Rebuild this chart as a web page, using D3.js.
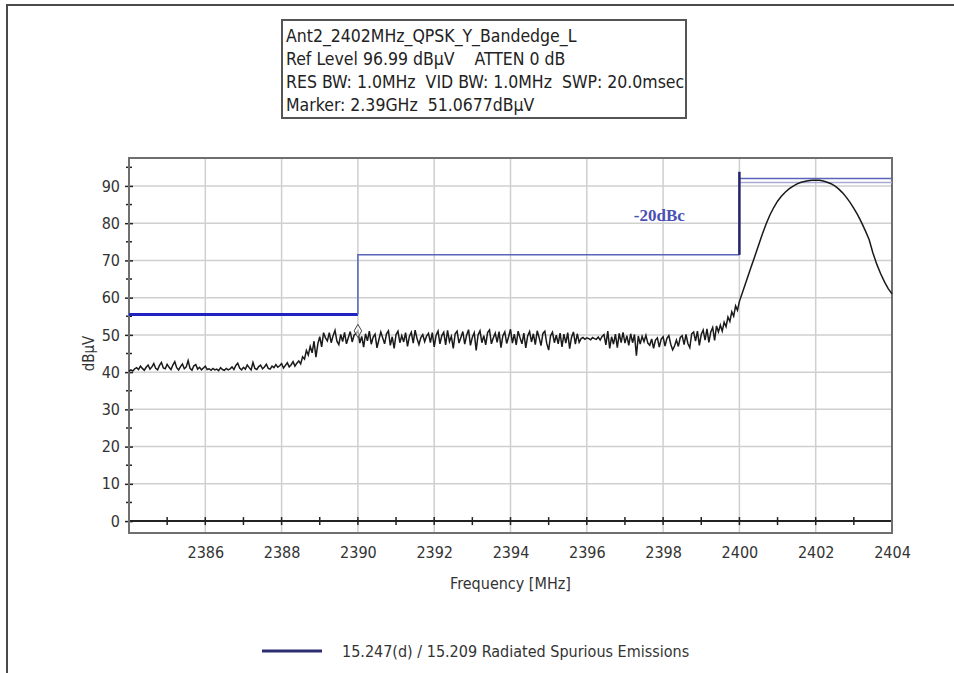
<!DOCTYPE html>
<html>
<head>
<meta charset="utf-8">
<script src="https://cdn.jsdelivr.net/npm/d3@7"></script>
<style>
  body { margin: 0; background: #fff; }
  text { font-family: "Liberation Sans Narrow", "DejaVu Sans Condensed", "Liberation Sans", sans-serif; }
</style>
</head>
<body>
<div id="chart"></div>
<script>
// header box lines
var headerLines = [
  "Ant2_2402MHz_QPSK_Y_Bandedge_L",
  "Ref Level 96.99 dB\u00b5V    ATTEN 0 dB",
  "RES BW: 1.0MHz  VID BW: 1.0MHz  SWP: 20.0msec",
  "Marker: 2.39GHz  51.0677dB\u00b5V"
];

var xTicks = [2386, 2388, 2390, 2392, 2394, 2396, 2398, 2400, 2402, 2404];
var yTicks = [0, 10, 20, 30, 40, 50, 60, 70, 80, 90];

// measured trace, 2384.00 .. 2400.00 MHz every 0.05 MHz
var noiseStart = 2384, noiseStep = 0.05;
var noiseLevel = [
  40.2,40.6,40.3,40.9,41.2,40.7,41.6,41.0,40.5,41.3,
  41.9,40.8,41.4,42.3,41.0,40.6,41.8,42.6,41.1,40.9,
  42.1,41.3,40.7,41.9,42.8,41.2,40.6,41.5,42.2,40.9,
  41.4,43.1,41.0,40.5,41.7,42.0,40.8,41.3,40.6,41.1,
  41.6,40.7,40.9,40.5,41.0,40.6,40.8,40.4,41.2,40.7,
  40.5,41.0,40.6,40.9,41.4,40.7,41.8,42.4,41.1,40.6,
  41.3,40.8,41.9,41.2,40.6,42.6,41.0,40.7,41.5,41.9,
  40.9,41.4,42.1,41.0,40.8,41.6,41.2,42.0,41.3,41.7,
  42.3,41.1,41.8,42.5,41.4,42.0,42.8,41.6,42.4,
  43.0,42.2,44.1,43.5,45.8,44.6,46.9,45.2,48.3,44.0,47.6,49.5,46.8,50.6,49.2,48.4,
  50.6,47.9,49.8,51.2,48.3,47.4,50.1,48.2,50.7,47.6,49.3,50.9,
  48.1,49.9,50.4,51.1,47.8,49.6,46.7,50.3,48.4,51.0,47.5,49.4,
  50.2,46.5,48.7,50.8,49.2,47.6,50.3,51.1,47.2,49.5,46.4,50.1,
  51.0,47.9,49.8,48.1,50.6,46.9,49.6,50.7,47.8,51.3,49.0,47.4,
  49.3,50.1,48.2,49.7,50.4,47.9,50.6,46.8,49.9,51.0,47.6,49.8,
  50.7,47.3,51.2,48.2,49.6,46.4,50.3,51.0,47.8,49.3,50.9,47.5,
  49.9,51.4,47.2,49.4,50.6,45.8,50.0,51.1,47.9,49.8,47.3,50.6,
  51.3,47.6,49.2,50.5,48.0,50.9,46.6,49.8,50.8,47.7,49.5,51.5,
  47.8,50.2,47.3,51.0,49.2,47.6,50.5,46.5,49.7,50.9,48.1,50.3,
  47.4,51.1,49.3,47.1,50.4,51.0,47.7,45.9,49.8,50.7,47.9,49.9,
  47.6,50.5,46.8,50.2,47.8,50.6,46.3,49.4,50.8,47.5,50.3,48.0,
  49.0,49.3,48.8,49.2,49.0,48.7,49.3,49.0,48.8,49.4,48.6,49.6,
  50.1,47.3,51.0,46.4,49.5,47.5,50.2,46.6,50.4,47.9,50.7,47.8,
  49.8,47.2,50.3,47.9,50.1,44.4,49.7,47.5,49.6,48.2,49.9,47.8,
  47.2,48.9,46.4,48.6,49.2,46.7,48.9,49.5,47.0,49.1,49.8,47.5,
  46.0,47.0,48.6,46.9,49.3,49.8,47.4,50.1,47.7,46.6,50.3,50.8,
  48.3,51.0,47.2,50.1,51.3,48.6,51.6,48.0,50.8,52.0,48.5,52.4,
  50.8,52.6,51.0,53.4,52.2,54.8,53.6,56.2,55.0,57.8,56.6,59.0
];

// carrier, 2400.1 .. 2404.0 MHz every 0.1 MHz
var carrierStart = 2400.1, carrierStep = 0.1;
var carrierLevel = [
  62.0,65.0,68.0,71.0,74.0,77.0,79.8,82.2,84.2,85.9,
  87.2,88.3,89.2,89.9,90.5,90.9,91.2,91.4,91.5,91.5,
  91.5,91.3,91.0,90.6,90.0,89.2,88.2,87.0,85.6,84.0,
  82.2,80.2,78.0,75.6,72.0,69.0,66.5,64.3,62.4,61.0
];

// limit lines (restricted band / -20dBc)
var limitLowFreq = [2384, 2390];
var limitLowLevel = [55.5, 55.5];
var limitMidFreq = [2390, 2390, 2400];
var limitMidLevel = [55.5, 71.5, 71.5];
var limitStepFreq = [2400, 2400];
var limitStepLevel = [71.5, 93.8];
var limitTopFreq = [2400, 2404];
var limitTopLevel = [92.0, 92.0];
var refLineLevel = [90.9, 90.9];

var markerFreq = 2390, markerLevel = 51.07;

var width = 954, height = 673;
var margin = {left: 129, right: 62, top: 158, bottom: 140};

var svg = d3.select("#chart").append("svg")
  .attr("width", width)
  .attr("height", height);

// outer frame (top + left only, like the capture)
svg.append("path")
  .attr("d", "M7,673 L7,5 L954,5")
  .attr("fill", "none")
  .attr("stroke", "#4a4a4a")
  .attr("stroke-width", 2);

var x = d3.scaleLinear().domain([2384, 2404]).range([margin.left, width - margin.right]);
var y = d3.scaleLinear().domain([-3.2, 97.5]).range([height - margin.bottom, margin.top]);

// grid
svg.append("g")
  .selectAll("line")
  .data(xTicks.filter(function(d) { return d < 2404; }))
  .join("line")
  .attr("x1", function(d) { return x(d); })
  .attr("x2", function(d) { return x(d); })
  .attr("y1", y.range()[1])
  .attr("y2", y.range()[0])
  .attr("stroke", "#cfcfcf")
  .attr("stroke-width", 1.5);

svg.append("g")
  .selectAll("line")
  .data(yTicks.filter(function(d) { return d > 0; }))
  .join("line")
  .attr("x1", x.range()[0])
  .attr("x2", x.range()[1])
  .attr("y1", function(d) { return y(d); })
  .attr("y2", function(d) { return y(d); })
  .attr("stroke", "#cfcfcf")
  .attr("stroke-width", 1.5);

// y axis with minor ticks every 5
var yAxis = d3.axisLeft(y)
  .tickValues(yTicks)
  .tickSize(5)
  .tickPadding(4);

var gy = svg.append("g")
  .attr("transform", "translate(" + margin.left + ",0)")
  .call(yAxis);
gy.select(".domain").remove();
gy.selectAll(".tick line").attr("x2", 4).attr("x1", -4).attr("stroke", "#222").attr("stroke-width", 1.5);
gy.selectAll(".tick text").style("font-size", "16px").style("fill", "#333");

svg.append("g")
  .selectAll("line")
  .data(d3.range(5, 100, 10))
  .join("line")
  .attr("x1", margin.left - 3)
  .attr("x2", margin.left + 3)
  .attr("y1", function(d) { return y(d); })
  .attr("y2", function(d) { return y(d); })
  .attr("stroke", "#222")
  .attr("stroke-width", 1.5);

// zero line + x ticks every 1 MHz
svg.append("line")
  .attr("x1", x.range()[0]).attr("x2", x.range()[1])
  .attr("y1", y(0)).attr("y2", y(0))
  .attr("stroke", "#222")
  .attr("stroke-width", 2);

svg.append("g")
  .selectAll("line")
  .data(d3.range(2385, 2404, 1))
  .join("line")
  .attr("x1", function(d) { return x(d); })
  .attr("x2", function(d) { return x(d); })
  .attr("y1", y(0) - 4)
  .attr("y2", y(0) + 4)
  .attr("stroke", "#222")
  .attr("stroke-width", 1.5);

var xAxis = d3.axisBottom(x)
  .tickValues(xTicks)
  .tickFormat(d3.format("d"))
  .tickSize(0)
  .tickPadding(14);

var gx = svg.append("g")
  .attr("transform", "translate(0," + y.range()[0] + ")")
  .call(xAxis);
gx.select(".domain").remove();
gx.selectAll(".tick text").style("font-size", "16px").style("fill", "#333");

// plot frame
svg.append("rect")
  .attr("x", x.range()[0])
  .attr("y", y.range()[1])
  .attr("width", x.range()[1] - x.range()[0])
  .attr("height", y.range()[0] - y.range()[1])
  .attr("fill", "none")
  .attr("stroke", "#6f6f6f")
  .attr("stroke-width", 2);

// axis titles
svg.append("text")
  .attr("x", (x.range()[0] + x.range()[1]) / 2)
  .attr("y", 589)
  .attr("text-anchor", "middle")
  .style("font-size", "16px")
  .style("fill", "#333")
  .text("Frequency [MHz]");

svg.append("text")
  .attr("transform", "translate(94," + y(45) + ") rotate(-90)")
  .attr("text-anchor", "middle")
  .style("font-size", "15px")
  .style("fill", "#333")
  .text("dB\u00b5V");

// limit lines
var levelLine = d3.line()
  .x(function(d) { return x(d[0]); })
  .y(function(d) { return y(d[1]); });

function drawLimit(freqs, levels, color, w) {
  svg.append("path")
    .datum(d3.zip(freqs, levels))
    .attr("d", levelLine)
    .attr("fill", "none")
    .attr("stroke", color)
    .attr("stroke-width", w);
}

drawLimit(limitLowFreq, limitLowLevel, "#2222c0", 3);
drawLimit(limitMidFreq, limitMidLevel, "#5a64b8", 1.5);
drawLimit(limitTopFreq, refLineLevel, "#a8acd4", 1.5);
drawLimit(limitTopFreq, limitTopLevel, "#5a64b8", 1.5);
drawLimit(limitStepFreq, limitStepLevel, "#23236e", 2.5);

svg.append("text")
  .attr("x", x(2397.9))
  .attr("y", y(80.6))
  .attr("text-anchor", "middle")
  .style("font-family", "'Liberation Serif', 'DejaVu Serif', serif")
  .style("font-weight", "bold")
  .style("font-size", "17px")
  .style("fill", "#4a50b4")
  .text("-20dBc");

// trace
var noise = noiseLevel.map(function(v, i) { return [noiseStart + i * noiseStep, v]; });
var carrier = carrierLevel.map(function(v, i) { return [carrierStart + i * carrierStep, v]; });
var trace = noise.concat(carrier);

svg.append("path")
  .datum(trace)
  .attr("d", levelLine)
  .attr("fill", "none")
  .attr("stroke", "#1a1a1a")
  .attr("stroke-width", 1.5);

// marker diamond
var mx = x(markerFreq), my = y(markerLevel);
svg.append("path")
  .attr("d", d3.symbol().type(d3.symbolDiamond).size(50)())
  .attr("transform", "translate(" + mx + "," + my + ")")
  .attr("fill", "#fff")
  .attr("fill-opacity", 0.6)
  .attr("stroke", "#444")
  .attr("stroke-width", 1);

// header box
var box = svg.append("g").attr("transform", "translate(282,20)");
box.append("rect")
  .attr("width", 404)
  .attr("height", 98)
  .attr("fill", "#fff")
  .attr("stroke", "#555")
  .attr("stroke-width", 2);
box.selectAll("text")
  .data(headerLines)
  .join("text")
  .attr("x", 4)
  .attr("y", function(d, i) { return 22 + i * 23; })
  .style("font-size", "17.5px")
  .style("fill", "#222")
  .style("white-space", "pre")
  .text(function(d) { return d; });

// legend
svg.append("line")
  .attr("x1", 262).attr("x2", 322)
  .attr("y1", 651).attr("y2", 651)
  .attr("stroke", "#2c2c70")
  .attr("stroke-width", 3);
svg.append("text")
  .attr("x", 342)
  .attr("y", 657)
  .style("font-size", "16px")
  .style("fill", "#333")
  .text("15.247(d) / 15.209 Radiated Spurious Emissions");
</script>
</body>
</html>
